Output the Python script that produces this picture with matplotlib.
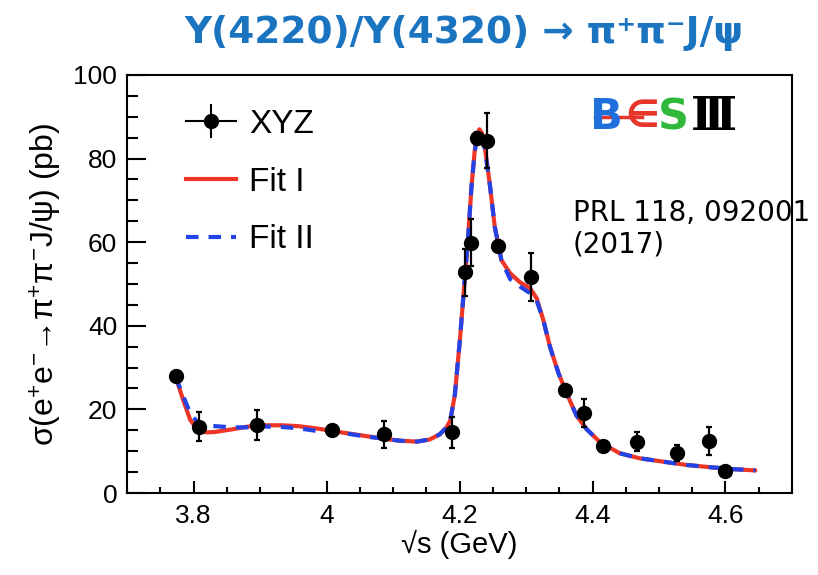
import matplotlib.pyplot as plt
from matplotlib.lines import Line2D
from matplotlib.legend_handler import HandlerTuple
from matplotlib.ticker import MultipleLocator

plt.rcParams['font.family'] = ['Liberation Sans', 'DejaVu Sans']
plt.rcParams['mathtext.fontset'] = 'custom'
plt.rcParams['mathtext.rm'] = 'Liberation Sans'
plt.rcParams['mathtext.it'] = 'Liberation Sans:italic'

# data points (XYZ)
xyz_x = [3.773, 3.808, 3.896, 4.008, 4.086, 4.189, 4.208, 4.217, 4.226, 4.242,
         4.258, 4.308, 4.358, 4.387, 4.416, 4.467, 4.527, 4.575, 4.600]
xyz_y = [28.0, 15.9, 16.3, 15.1, 14.0, 14.5, 52.8, 59.9, 84.9, 84.3,
         59.1, 51.6, 24.6, 19.1, 11.2, 12.3, 9.6, 12.4, 5.3]
xyz_err = [1.2, 3.4, 3.6, 1.0, 3.2, 3.8, 5.6, 5.7, 1.5, 6.5,
           1.5, 5.7, 1.5, 3.3, 1.0, 2.3, 1.9, 3.3, 1.0]

# fit curves
fit1_x = [3.773, 3.785, 3.795, 3.807, 3.820, 3.832, 3.857, 3.882, 3.907, 3.932,
          3.957, 3.983, 4.010, 4.035, 4.060, 4.085, 4.111, 4.136, 4.155, 4.170,
          4.180, 4.186, 4.193, 4.201, 4.207, 4.213, 4.218, 4.223, 4.227, 4.230,
          4.234, 4.238, 4.246, 4.253, 4.263, 4.276, 4.291, 4.306, 4.316, 4.326,
          4.336, 4.349, 4.361, 4.376, 4.391, 4.411, 4.441, 4.471, 4.506, 4.542,
          4.582, 4.612, 4.645]
fit1_y = [27.8, 22.0, 17.5, 14.9, 14.5, 14.6, 15.2, 15.9, 16.2, 16.2,
          16.0, 15.5, 14.8, 14.2, 13.6, 13.0, 12.5, 12.3, 12.8, 14.0,
          15.6, 17.3, 23.5, 37.4, 49.4, 61.3, 73.3, 82.1, 86.0, 87.0,
          86.0, 82.8, 73.3, 63.7, 55.7, 52.6, 50.4, 49.0, 46.6, 41.4,
          35.0, 28.6, 23.9, 18.5, 15.3, 12.2, 9.5, 8.3, 7.5, 6.7,
          6.1, 5.7, 5.4]

fit2_x = fit1_x
fit2_y = [27.8, 23.0, 19.1, 16.7, 16.2, 16.0, 15.7, 15.7, 15.9, 15.8,
          15.5, 14.9, 14.6, 14.1, 13.5, 13.0, 12.5, 12.3, 12.8, 14.0,
          15.6, 17.3, 23.5, 37.4, 49.4, 61.3, 73.3, 81.8, 85.3, 86.0,
          85.3, 82.5, 73.3, 63.7, 55.7, 51.2, 49.4, 47.8, 46.0, 41.4,
          35.0, 28.6, 23.9, 18.5, 15.3, 12.2, 9.5, 8.3, 7.5, 6.7,
          6.1, 5.7, 5.4]

red = '#ee3526'
blue = '#2342e8'

fig = plt.figure(figsize=(8.18, 5.75), dpi=100)
ax = fig.add_axes([0.1553, 0.1426, 0.8129, 0.7270])

ax.plot(fit1_x, fit1_y, color=red, lw=3.0, solid_capstyle='round', zorder=2)
ax.plot(fit2_x, fit2_y, color=blue, lw=3.0, dashes=(3.0, 2.4), zorder=3)
ax.errorbar(xyz_x, xyz_y, yerr=xyz_err, fmt='o', color='black', ms=10,
            elinewidth=1.6, capsize=2.5, capthick=1.6, zorder=4)

ax.set_xlim(3.7, 4.7)
ax.set_ylim(0, 100)
ax.xaxis.set_major_locator(MultipleLocator(0.2))
ax.xaxis.set_minor_locator(MultipleLocator(0.05))
ax.yaxis.set_major_locator(MultipleLocator(20))
ax.yaxis.set_minor_locator(MultipleLocator(5))
ax.set_xticks([3.8, 4.0, 4.2, 4.4, 4.6])
ax.set_xticklabels(['3.8', '4', '4.2', '4.4', '4.6'])
ax.tick_params(axis='x', which='major', direction='in', length=9, width=1.5,
               labelsize=19, pad=8, top=False)
ax.tick_params(axis='x', which='minor', direction='in', length=4.5, width=1.5, top=False)
ax.tick_params(axis='y', which='major', direction='in', length=14, width=1.5,
               labelsize=19, pad=7, right=False)
ax.tick_params(axis='y', which='minor', direction='in', length=8, width=1.5, right=False)
for s in ax.spines.values():
    s.set_linewidth(1.5)

ax.set_xlabel(r'√s (GeV)', fontsize=21, labelpad=1)
ax.set_ylabel(r'σ(e$^{+}$e$^{-}$→π$^{+}$π$^{-}$J/ψ) (pb)', fontsize=23, labelpad=7)

# legend
h_xyz = (Line2D([], [], color='black', lw=1.5, marker='o', ms=10),
         Line2D([], [], color='black', lw=0, marker='|', ms=24, mew=1.5))
h_f1 = Line2D([], [], color=red, lw=3.0)
h_f2 = Line2D([], [], color=blue, lw=3.0, dashes=(3.0, 2.4))
ax.legend([h_xyz, h_f1, h_f2], ['XYZ', 'Fit I', 'Fit II'],
          handler_map={tuple: HandlerTuple(ndivide=1)},
          loc='upper left', bbox_to_anchor=(0.043, 0.99), frameon=False,
          fontsize=24, handlelength=1.5, handletextpad=0.4, labelspacing=0.8)

# reference text
ax.text(0.67, 0.632, 'PRL 118, 092001\n(2017)', transform=ax.transAxes,
        fontsize=20, family='DejaVu Sans', va='center', ha='left',
        linespacing=1.15, clip_on=False)

# BESIII logo
fy = 1 - 117 / 575
fig.text(590 / 818, fy, 'B', color='#1f6fdc', fontsize=31, fontweight='bold',
         family='DejaVu Sans', va='center')
fig.text(625 / 818, fy, '∈', color='#e8352a', fontsize=27, fontweight='bold',
         family='DejaVu Sans', va='center')
fig.text(658 / 818, fy, 'S', color='#2fb83a', fontsize=31, fontweight='bold',
         family='DejaVu Sans', va='center')
fig.text(691 / 818, fy, 'Ⅲ', color='black', fontsize=33, fontweight='bold',
         family=['DejaVu Serif', 'DejaVu Sans'], va='center')
fig.add_artist(Line2D([595 / 818, 642 / 818], [fy, fy], color='#e8352a', lw=2.5))

# title
fig.text(464 / 818, 1 - 33 / 575, 'Y(4220)/Y(4320) → π⁺π⁻J/ψ', color='#1b74c0',
         fontsize=27, fontweight='bold', family='DejaVu Sans',
         ha='center', va='center')

fig.savefig('out.png', dpi=100)
